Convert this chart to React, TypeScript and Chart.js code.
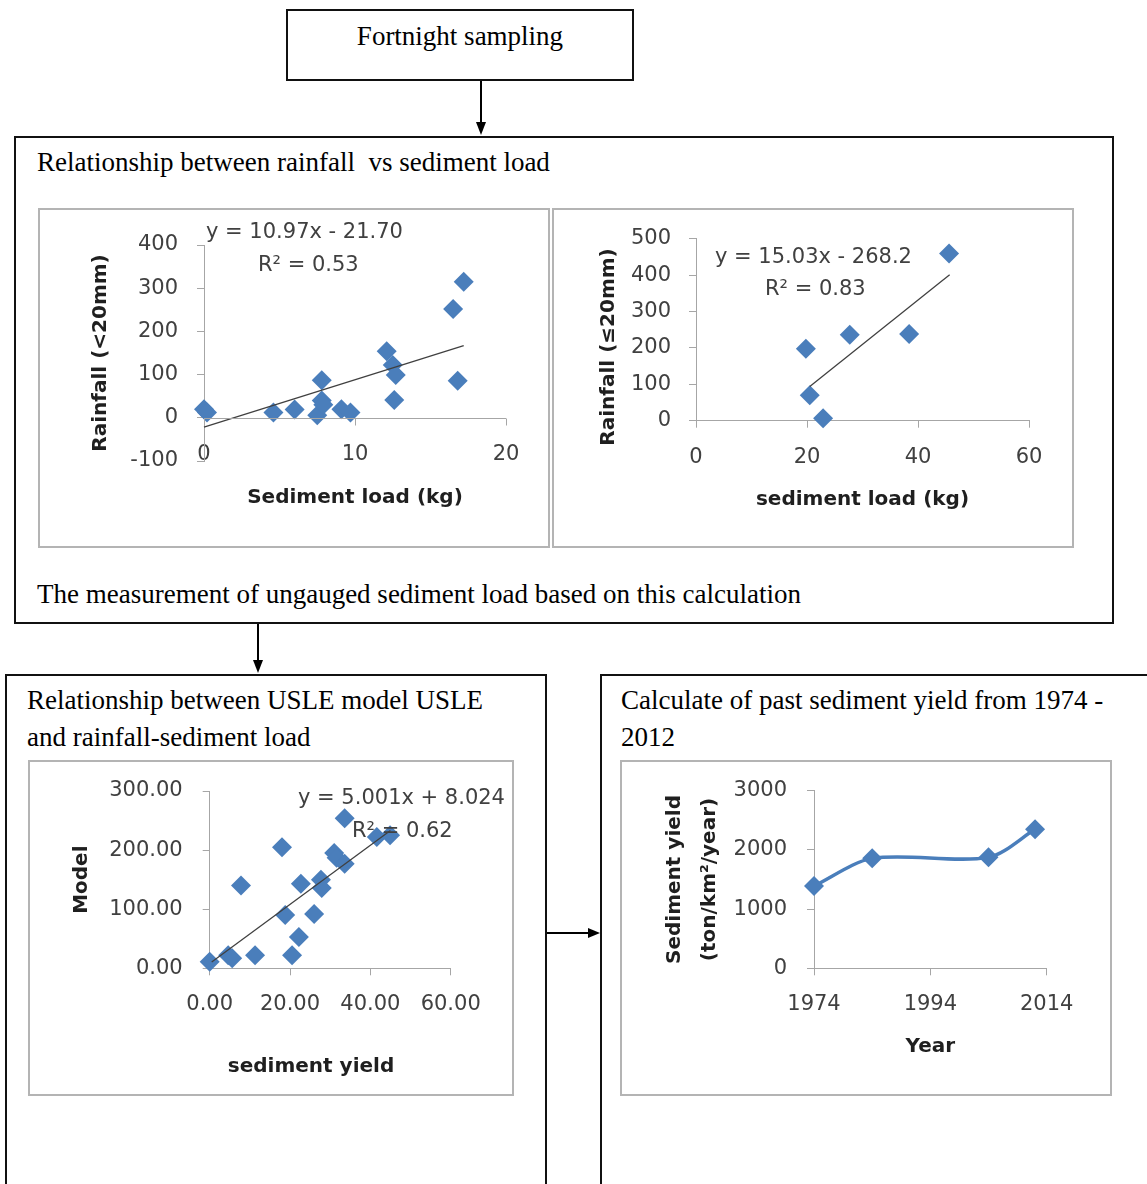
import React, { useEffect, useRef } from 'react';
import { Chart, registerables } from 'chart.js';

Chart.register(...registerables);

// ---------- data ----------
const c1SedimentLoad = [0, 0.2, 4.6, 6.0, 7.5, 7.8, 7.8, 7.9, 9.1, 9.7, 12.1, 12.5, 12.7, 12.6, 16.5, 17.2, 16.8];
const c1Rainfall = [20, 12, 12, 19, 6, 87, 40, 30, 20, 12, 154, 122, 99, 41, 252, 315, 86];
const c1TrendX = [0, 17.2];
const c1TrendY = [-21.7, 167];

const c2SedimentLoad = [19.8, 20.5, 22.9, 27.7, 38.4, 45.6];
const c2Rainfall = [198, 70, 7, 236, 238, 459];
const c2TrendX = [20.5, 45.7];
const c2TrendY = [94, 401];

const c3SedimentYield = [0, 4.6, 5.6, 7.8, 11.3, 18.0, 18.8, 20.5, 22.2, 22.7, 26.0, 27.7, 27.9, 31.0, 31.6, 33.6, 33.6, 41.6, 44.9];
const c3Model = [11, 22, 17, 140, 22, 205, 90, 22, 53, 143, 92, 150, 136, 195, 187, 254, 177, 222, 225];
const c3TrendX = [0.5, 45];
const c3TrendY = [10.5, 233];

const c4Years = [1974, 1984, 2004, 2012];
const c4Yield = [1390, 1857, 1874, 2347];
const c4YearTicks = [1974, 1994, 2014];

// ---------- styles ----------
const BLUE = '#4a7ebb';
const TREND = '#404040';
const AXIS = '#a6a6a6';
const TICK_C = '#404040';
const TITLE_C = '#1f1f1f';
const TICK_FONT = { family: 'DejaVu Sans', size: 21 };
const TITLE_FONT = { family: 'DejaVu Sans', size: 20, weight: 'bold' as const };
const SERIF = '"Liberation Serif", "Times New Roman", serif';

const pts = (xs: number[], ys: number[]) => xs.map((x, i) => ({ x, y: ys[i] }));

const zeroAxisPlugin = {
  id: 'zeroAxis',
  afterDatasetsDraw(chart: any, _args: any, opts: any) {
    if (!opts || !opts.enabled) return;
    const { ctx } = chart;
    const xs = chart.scales.x;
    const ys = chart.scales.y;
    const py = Math.round(ys.getPixelForValue(0)) + 0.5;
    ctx.save();
    ctx.strokeStyle = opts.color;
    ctx.lineWidth = 1;
    ctx.beginPath();
    ctx.moveTo(xs.left, py);
    ctx.lineTo(xs.right, py);
    xs.ticks.forEach((t: any) => {
      const px = Math.round(xs.getPixelForValue(t.value)) + 0.5;
      ctx.moveTo(px, py);
      ctx.lineTo(px, py + opts.tick);
    });
    ctx.stroke();
    ctx.restore();
  },
};

function scatterSet(data: any[]) {
  return {
    data,
    pointStyle: 'rectRot',
    pointRadius: 10,
    backgroundColor: BLUE,
    borderColor: BLUE,
    borderWidth: 0,
    showLine: false,
    clip: false,
  };
}
function trendSet(data: any[]) {
  return {
    data,
    showLine: true,
    borderColor: TREND,
    borderWidth: 1.3,
    pointRadius: 0,
    fill: false,
    clip: false,
  };
}

function xScale(o: any) {
  return {
    type: 'linear',
    min: o.min,
    max: o.max,
    ticks: { stepSize: o.step, padding: o.pad, font: TICK_FONT, color: TICK_C, callback: o.cb, autoSkip: false, maxRotation: 0 },
    grid: o.zeroAxis
      ? { display: false, drawTicks: false }
      : { display: true, drawOnChartArea: false, drawTicks: true, tickLength: 7, color: AXIS },
    border: { display: !o.zeroAxis, color: AXIS, width: 1 },
    title: o.title
      ? { display: true, text: o.title, font: TITLE_FONT, color: TITLE_C, padding: 0 }
      : { display: false },
    afterBuildTicks: o.tickValues
      ? (s: any) => { s.ticks = o.tickValues.map((v: number) => ({ value: v })); }
      : undefined,
    afterFit: (s: any) => {
      s.height = o.size;
      s.paddingLeft = 0;
      s.paddingRight = 0;
      if (o.zeroAxis) {
        // labels sit above the scale box (Excel "low" labels): do not clip them
        s._computeLabelArea = () => undefined;
      }
    },
  };
}
function yScale(o: any) {
  return {
    type: 'linear',
    min: o.min,
    max: o.max,
    ticks: { stepSize: o.step, padding: o.pad, font: TICK_FONT, color: TICK_C, callback: o.cb, autoSkip: false },
    grid: { display: true, drawOnChartArea: false, drawTicks: true, tickLength: 7, color: AXIS },
    border: { display: true, color: AXIS, width: 1 },
    title: o.title
      ? { display: true, text: o.title, font: { ...TITLE_FONT, lineHeight: o.titleLH || 1.2 }, color: TITLE_C, padding: 0 }
      : { display: false },
    afterFit: (s: any) => { s.width = o.size; s.paddingTop = 0; s.paddingBottom = 0; },
  };
}

function baseOptions(padding: any, scales: any, extraPlugins: any = {}) {
  return {
    responsive: false,
    maintainAspectRatio: false,
    animation: false,
    devicePixelRatio: 1,
    layout: { padding },
    plugins: { legend: { display: false }, tooltip: { enabled: false }, title: { display: false }, ...extraPlugins },
    scales,
  };
}

const chart1Config = () => ({
  type: 'scatter',
  data: { datasets: [trendSet(pts(c1TrendX, c1TrendY)), scatterSet(pts(c1SedimentLoad, c1Rainfall))] },
  options: baseOptions(
    { left: 51, right: 44, top: 37, bottom: 38 },
    {
      x: xScale({ min: 0, max: 20, step: 10, pad: -19, zeroAxis: true, title: 'Sediment load (kg)', size: 49 }),
      y: yScale({ min: -100, max: 400, step: 100, pad: 19, title: 'Rainfall (<20mm)', size: 115 }),
    },
    { zeroAxis: { enabled: true, color: AXIS, tick: 7 } }
  ),
  plugins: [zeroAxisPlugin],
});

const chart2Config = () => ({
  type: 'scatter',
  data: { datasets: [trendSet(pts(c2TrendX, c2TrendY)), scatterSet(pts(c2SedimentLoad, c2Rainfall))] },
  options: baseOptions(
    { left: 0, right: 45, top: 30.7, bottom: 36.3 },
    {
      x: xScale({ min: 0, max: 60, step: 20, pad: 17, title: 'sediment load (kg)', size: 91 }),
      y: yScale({ min: 0, max: 500, step: 100, pad: 18, size: 144 }),
    }
  ),
});

const chart3Config = () => ({
  type: 'scatter',
  data: { datasets: [trendSet(pts(c3TrendX, c3TrendY)), scatterSet(pts(c3SedimentYield, c3Model))] },
  options: baseOptions(
    { left: 41.3, right: 63.3, top: 31, bottom: 67.7 },
    {
      x: xScale({ min: 0, max: 60, step: 20, pad: 17, size: 60, cb: (v: any) => Number(v).toFixed(2) }),
      y: yScale({ min: 0, max: 300, step: 100, pad: 20, title: 'Model', size: 140.4, cb: (v: any) => Number(v).toFixed(2) }),
    }
  ),
});

const chart4Config = () => ({
  type: 'scatter',
  data: {
    datasets: [
      {
        data: pts(c4Years, c4Yield),
        showLine: true,
        tension: 0.3,
        borderColor: BLUE,
        borderWidth: 3.5,
        pointStyle: 'rectRot',
        pointRadius: 10,
        backgroundColor: BLUE,
        pointBorderWidth: 0,
        clip: false,
      },
    ],
  },
  options: baseOptions(
    { left: 37.5, right: 65.3, top: 30.7, bottom: 37.3 },
    {
      x: xScale({ min: 1974, max: 2014, step: 20, pad: 17, title: 'Year', size: 90.4, tickValues: c4YearTicks, cb: (v: any) => String(v) }),
      y: yScale({ min: 0, max: 3000, step: 1000, pad: 20, title: ['Sediment yield', '(ton/km\u00b2/year)'], titleLH: 1.75, size: 156.5, cb: (v: any) => String(v) }),
    }
  ),
});

function ChartBox({ left, top, width, height, config }: any) {
  const ref = useRef<HTMLCanvasElement>(null);
  useEffect(() => {
    const chart = new Chart(ref.current as HTMLCanvasElement, config() as any);
    return () => chart.destroy();
  }, []);
  return (
    <>
      <canvas ref={ref} width={width} height={height} style={{ position: 'absolute', left, top, width, height }} />
      <div style={{ position: 'absolute', left, top, width, height, boxSizing: 'border-box', border: '2px solid #b4b4b4', pointerEvents: 'none' }} />
    </>
  );
}

function SerifText({ x, y, children }: any) {
  return (
    <div style={{ position: 'absolute', left: x, top: y, transform: 'translateY(-50%)', fontFamily: SERIF, fontSize: 27, lineHeight: 1, whiteSpace: 'pre', color: '#000' }}>
      {children}
    </div>
  );
}

function EqText({ x, y, children }: any) {
  return (
    <div style={{ position: 'absolute', left: x, top: y, transform: 'translateY(-50%)', fontFamily: 'DejaVu Sans', fontSize: 21, lineHeight: 1, whiteSpace: 'pre', color: TICK_C }}>
      {children}
    </div>
  );
}

function AxisTitle({ x, y, rotate, children }: any) {
  return (
    <div style={{ position: 'absolute', left: x, top: y, transform: `translate(-50%, -50%)${rotate ? ' rotate(-90deg)' : ''}`, fontFamily: 'DejaVu Sans', fontWeight: 'bold', fontSize: 20, lineHeight: 1, whiteSpace: 'pre', color: TITLE_C }}>
      {children}
    </div>
  );
}

const box = (left: number, top: number, width: number, height: number) => ({
  position: 'absolute' as const, left, top, width, height, boxSizing: 'border-box' as const, border: '2px solid #111', background: '#fff',
});

export default function App() {
  return (
    <div style={{ position: 'fixed', left: 0, top: 0, width: 1147, height: 1184, overflow: 'hidden', background: '#fff' }}>
      {/* flow boxes */}
      <div style={box(286, 9, 348, 72)} />
      <div style={box(14, 136, 1100, 488)} />
      <div style={box(5, 674, 542, 600)} />
      <div style={box(600, 674, 600, 600)} />

      {/* arrows */}
      <svg width={1147} height={1184} style={{ position: 'absolute', left: 0, top: 0 }}>
        <line x1={481} y1={81} x2={481} y2={124} stroke="#000" strokeWidth={2} />
        <polygon points="476,122 486,122 481,135" fill="#000" />
        <line x1={258} y1={624} x2={258} y2={662} stroke="#000" strokeWidth={2} />
        <polygon points="253,660 263,660 258,673" fill="#000" />
        <line x1={547} y1={933} x2={590} y2={933} stroke="#000" strokeWidth={2} />
        <polygon points="588,928 588,938 600,933" fill="#000" />
      </svg>

      {/* texts */}
      <div style={{ position: 'absolute', left: 286, width: 348, top: 36, transform: 'translateY(-50%)', textAlign: 'center', fontFamily: SERIF, fontSize: 27, lineHeight: 1 }}>
        Fortnight sampling
      </div>
      <SerifText x={37} y={162}>Relationship between rainfall  vs sediment load</SerifText>
      <SerifText x={37} y={594}>The measurement of ungauged sediment load based on this calculation</SerifText>
      <SerifText x={27} y={700}>Relationship between USLE model USLE</SerifText>
      <SerifText x={27} y={737}>and rainfall-sediment load</SerifText>
      <SerifText x={621} y={700}>Calculate of past sediment yield from 1974 -</SerifText>
      <SerifText x={621} y={737}>2012</SerifText>

      {/* charts */}
      <ChartBox left={38} top={208} width={512} height={340} config={chart1Config} />
      <ChartBox left={552} top={208} width={522} height={340} config={chart2Config} />
      <ChartBox left={28} top={760} width={486} height={336} config={chart3Config} />
      <ChartBox left={620} top={760} width={492} height={336} config={chart4Config} />

      {/* trendline equations */}
      <EqText x={206} y={231}>y = 10.97x - 21.70</EqText>
      <EqText x={258} y={264}>R² = 0.53</EqText>
      <EqText x={715} y={256}>y = 15.03x - 268.2</EqText>
      <EqText x={765} y={288}>R² = 0.83</EqText>
      <EqText x={298} y={797}>y = 5.001x + 8.024</EqText>
      <EqText x={352} y={830}>R² = 0.62</EqText>

      {/* axis titles placed off-centre in the original */}
      <AxisTitle x={607} y={347} rotate>Rainfall (≤20mm)</AxisTitle>
      <AxisTitle x={311} y={1065}>sediment yield</AxisTitle>
    </div>
  );
}
